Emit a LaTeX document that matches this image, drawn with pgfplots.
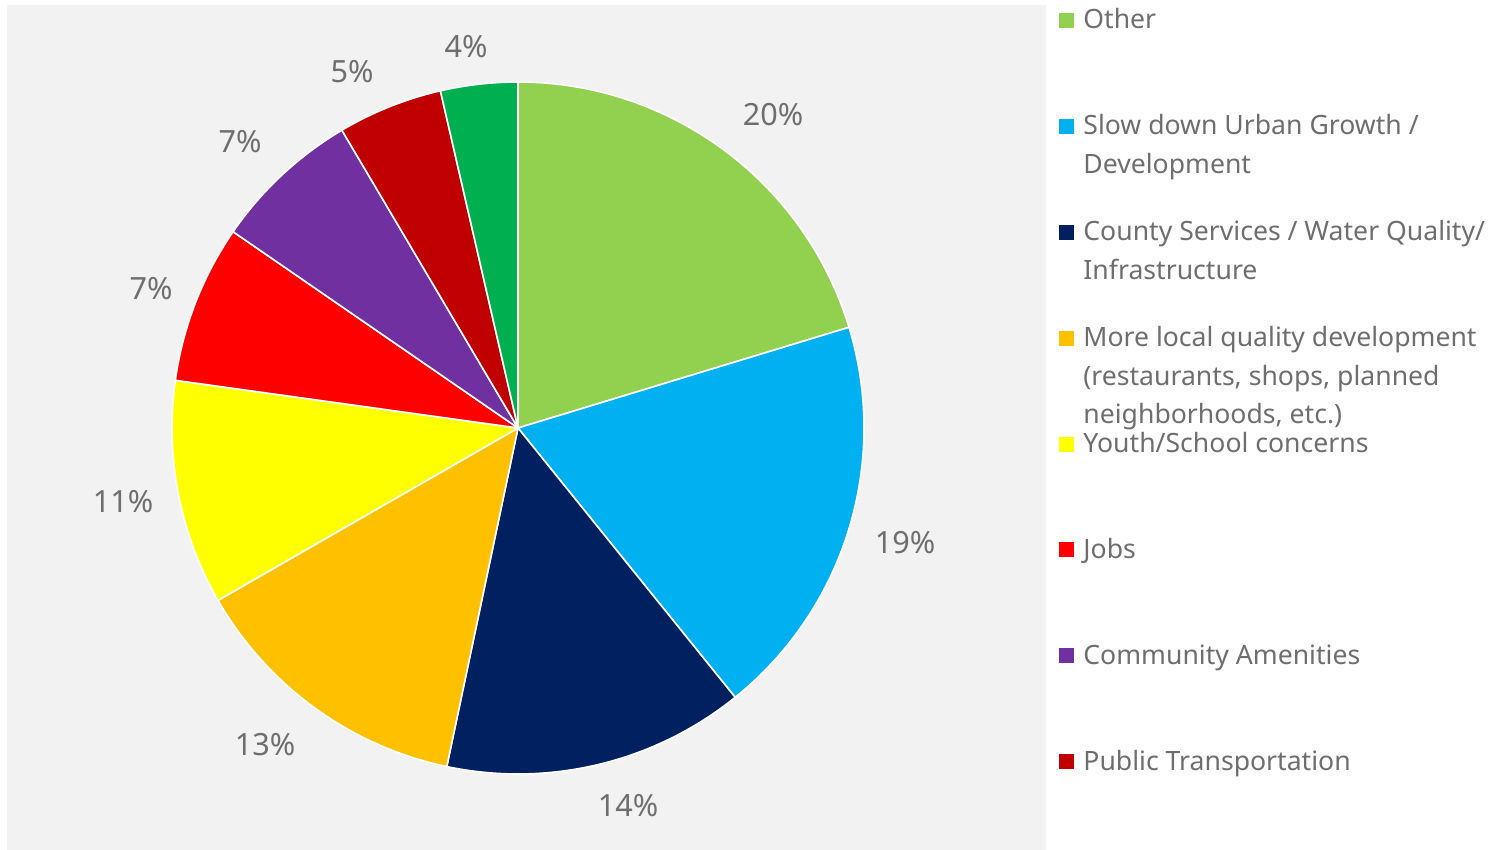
\documentclass[border=0pt]{standalone}
\usepackage{fontspec}
\setmainfont{Noto Sans}
\usepackage{pgfplots}
\usepackage{pgfplotstable}
\pgfplotsset{compat=1.18}

\definecolor{cOther}{HTML}{92D050}
\definecolor{cSlow}{HTML}{00B0F0}
\definecolor{cCounty}{HTML}{002060}
\definecolor{cMore}{HTML}{FFC000}
\definecolor{cYouth}{HTML}{FFFF00}
\definecolor{cJobs}{HTML}{FF0000}
\definecolor{cAmen}{HTML}{7030A0}
\definecolor{cTrans}{HTML}{C00000}
\definecolor{cGreen}{HTML}{00B050}
\definecolor{panel}{HTML}{F2F2F2}
\definecolor{txt}{HTML}{6E6E6E}

\newcommand\pctfont{\fontsize{15.3}{18}\selectfont}
\newcommand\legfont{\fontsize{13.3}{19}\selectfont}
\tikzset{
  pct/.style={text=txt, font=\pctfont, inner sep=0pt},
  leg/.style={text=txt, font=\legfont, inner sep=0pt, anchor=base west},
}

% slice shares clockwise from 12 o'clock, printed label, label centre (px from top left)
\pgfplotstableread{
share lab lx ly
20.3 20 773 115
18.9 19 905 543
14.1 14 628 806
13.4 13 265 745
10.5 11 123 502
7.4  7  151 289
6.9  7  240 142
4.9  5  352 72
3.6  4  466 47
}\piedata

\begin{document}
\begin{tikzpicture}
\begin{axis}[
  x=0.5pt, y=0.5pt,
  xmin=0, xmax=1503, ymin=0, ymax=850,
  hide axis, clip=false,
]
% fixed page frame, 1 unit = 1 px of the reference
\path (axis cs:0,0) rectangle (axis cs:1503,850);
\fill[panel] (axis cs:7,0) rectangle (axis cs:1046,845);

\def\a{90}
\pgfplotsforeachungrouped \i/\c in {0/cOther,1/cSlow,2/cCounty,3/cMore,4/cYouth,5/cJobs,6/cAmen,7/cTrans,8/cGreen}{
  \pgfplotstablegetelem{\i}{share}\of\piedata \let\s\pgfplotsretval
  \pgfplotstablegetelem{\i}{lab}\of\piedata \let\l\pgfplotsretval
  \pgfplotstablegetelem{\i}{lx}\of\piedata \let\lx\pgfplotsretval
  \pgfplotstablegetelem{\i}{ly}\of\piedata \pgfmathsetmacro\ly{850-\pgfplotsretval}
  \pgfmathsetmacro\b{\a-3.6*\s}
  \edef\slice{\noexpand\filldraw[fill=\c, draw=white, line width=0.8pt, line join=round]
     (axis cs:518,422) -- ++(\a:173pt) arc[start angle=\a, end angle=\b, radius=173pt] -- cycle;
     \noexpand\node[pct] at (axis cs:\lx,\ly) {\l\noexpand\%};}
  \slice
  \let\a\b
}

% legend (last slice has no visible entry)
\fill[cOther]  (axis cs:1059,822)   rectangle (axis cs:1074,837);
\fill[cSlow]   (axis cs:1059,716.1) rectangle (axis cs:1074,731.1);
\fill[cCounty] (axis cs:1059,610.2) rectangle (axis cs:1074,625.2);
\fill[cMore]   (axis cs:1059,504.3) rectangle (axis cs:1074,519.3);
\fill[cYouth]  (axis cs:1059,398.4) rectangle (axis cs:1074,413.4);
\fill[cJobs]   (axis cs:1059,292.5) rectangle (axis cs:1074,307.5);
\fill[cAmen]   (axis cs:1059,186.6) rectangle (axis cs:1074,201.6);
\fill[cTrans]  (axis cs:1059,80.7)  rectangle (axis cs:1074,95.7);

\node[leg] at (axis cs:1083,821)   {Other};
\node[leg] at (axis cs:1083,715.1) {Slow down Urban Growth /};
\node[leg] at (axis cs:1083,676.7) {Development};
\node[leg] at (axis cs:1083,609.2) {County Services / Water Quality/};
\node[leg] at (axis cs:1083,570.8) {Infrastructure};
\node[leg] at (axis cs:1083,503.3) {More local quality development};
\node[leg] at (axis cs:1083,464.9) {(restaurants, shops, planned};
\node[leg] at (axis cs:1083,426.5) {neighborhoods, etc.)};
\node[leg] at (axis cs:1083,397.4) {Youth/School concerns};
\node[leg] at (axis cs:1083,291.5) {Jobs};
\node[leg] at (axis cs:1083,185.6) {Community Amenities};
\node[leg] at (axis cs:1083,79.7)  {Public Transportation};
\end{axis}
\end{tikzpicture}
\end{document}
